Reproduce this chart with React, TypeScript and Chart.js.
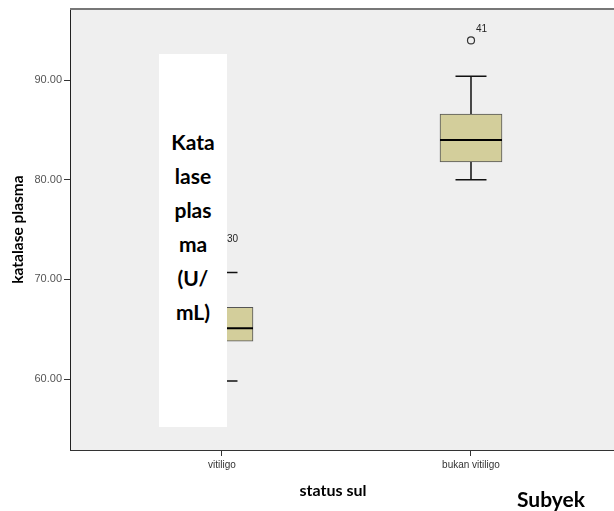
import React, { useEffect, useRef } from "react";
import { Chart, registerables } from "chart.js";

Chart.register(...registerables);

const categories = ["vitiligo", "bukan vitiligo"];
const whiskerLow = [59.8, 80.0];
const q1 = [63.8, 81.8];
const median = [65.1, 84.0];
const q3 = [67.2, 86.6];
const whiskerHigh = [70.7, 90.4];
const outlierValues = [72.9, 94.0];
const outlierLabels = ["30", "41"];
const outlierCategory = [0, 1];
const yTicks = [60, 70, 80, 90];

const yMin = 52.87;
const yMax = 97.16;
const xMin = 0.3896;
const xMax = 2.502;

const boxPlugin = {
  id: "boxParts",
  beforeDraw(chart: any) {
    const { ctx, chartArea } = chart;
    ctx.save();
    ctx.fillStyle = "#efefef";
    ctx.fillRect(chartArea.left, chartArea.top, chart.width - chartArea.left, chartArea.bottom - chartArea.top);
    ctx.restore();
  },
  beforeDatasetsDraw(chart: any) {
    const { ctx } = chart;
    const xs = chart.scales.x;
    const ys = chart.scales.y;
    ctx.save();
    ctx.strokeStyle = "#111";
    ctx.lineWidth = 1.5;
    categories.forEach((_, i) => {
      const x = xs.getPixelForValue(i + 1);
      const cap = 15.5;
      const yh = ys.getPixelForValue(whiskerHigh[i]);
      const yq3 = ys.getPixelForValue(q3[i]);
      const yl = ys.getPixelForValue(whiskerLow[i]);
      const yq1 = ys.getPixelForValue(q1[i]);
      ctx.beginPath();
      ctx.moveTo(x, yq3);
      ctx.lineTo(x, yh);
      ctx.moveTo(x - cap, yh);
      ctx.lineTo(x + cap, yh);
      ctx.moveTo(x, yq1);
      ctx.lineTo(x, yl);
      ctx.moveTo(x - cap, yl);
      ctx.lineTo(x + cap, yl);
      ctx.stroke();
    });
    ctx.restore();
  },
  afterDatasetsDraw(chart: any) {
    const { ctx } = chart;
    const xs = chart.scales.x;
    const ys = chart.scales.y;
    ctx.save();
    ctx.strokeStyle = "#000";
    ctx.lineWidth = 2;
    categories.forEach((_, i) => {
      const x = xs.getPixelForValue(i + 1);
      const y = ys.getPixelForValue(median[i]);
      ctx.beginPath();
      ctx.moveTo(x - 31, y);
      ctx.lineTo(x + 31, y);
      ctx.stroke();
    });
    ctx.fillStyle = "#222";
    ctx.font = "10px 'Liberation Sans', Arial, sans-serif";
    ctx.textAlign = "left";
    ctx.textBaseline = "middle";
    outlierValues.forEach((v, i) => {
      const x = xs.getPixelForValue(outlierCategory[i] + 1);
      const y = ys.getPixelForValue(v);
      ctx.fillText(outlierLabels[i], x + 5, y - 11.5);
    });
    ctx.restore();
  },
  afterDraw(chart: any) {
    const { ctx, chartArea } = chart;
    ctx.save();
    ctx.strokeStyle = "#777";
    ctx.lineWidth = 2;
    ctx.beginPath();
    ctx.moveTo(chartArea.left, chartArea.top);
    ctx.lineTo(chart.width, chartArea.top);
    ctx.stroke();
    ctx.strokeStyle = "#333";
    ctx.lineWidth = 1;
    ctx.beginPath();
    ctx.moveTo(chartArea.left, chartArea.bottom + 0.5);
    ctx.lineTo(chart.width, chartArea.bottom + 0.5);
    ctx.stroke();
    ctx.restore();
  },
};

export default function App() {
  const ref = useRef<HTMLCanvasElement | null>(null);

  useEffect(() => {
    document.body.style.margin = "0";
    const canvas = ref.current;
    if (!canvas) return;
    const chart = new Chart(canvas, {
      type: "bar",
      data: {
        datasets: [
          {
            type: "bar",
            data: categories.map((_, i) => ({ x: i + 1, y: [q1[i], q3[i]] })) as any,
            backgroundColor: "#d3ce9b",
            borderColor: "#555",
            borderWidth: 1,
            borderSkipped: false,
            barThickness: 62,
          } as any,
          {
            type: "scatter",
            data: outlierValues.map((v, i) => ({ x: outlierCategory[i] + 1, y: v })),
            pointStyle: "circle",
            pointRadius: 3.5,
            pointBorderWidth: 1.2,
            pointBorderColor: "#333",
            pointBackgroundColor: "rgba(0,0,0,0)",
          } as any,
        ],
      },
      options: {
        responsive: false,
        animation: false,
        layout: { padding: { top: 9, right: 18, left: 0, bottom: 0 } },
        plugins: { legend: { display: false }, tooltip: { enabled: false } },
        scales: {
          x: {
            type: "linear",
            min: xMin,
            max: xMax,
            offset: false,
            afterFit: (s: any) => {
              s.height = 61;
            },
            afterBuildTicks: (s: any) => {
              s.ticks = categories.map((_, i) => ({ value: i + 1 }));
            },
            ticks: {
              autoSkip: false,
              maxRotation: 0,
              padding: 3,
              color: "#333",
              font: { size: 10, family: "'Liberation Sans', Arial, sans-serif" },
              callback: (v: any) => categories[Number(v) - 1] ?? "",
            },
            grid: { offset: false, drawOnChartArea: false, drawTicks: true, tickLength: 6, color: "#333" },
            border: { color: "#333", width: 1 },
            title: {
              display: true,
              text: "status sul",
              color: "#000",
              font: { size: 16, weight: "bold", family: "Lato, 'Open Sans', sans-serif" },
              padding: { top: 2, bottom: 11 },
            },
          },
          y: {
            type: "linear",
            min: yMin,
            max: yMax,
            afterFit: (s: any) => {
              s.width = 70;
            },
            afterBuildTicks: (s: any) => {
              s.ticks = yTicks.map((v) => ({ value: v }));
            },
            ticks: {
              padding: 2,
              color: "#555",
              font: { size: 11, family: "'Liberation Sans', Arial, sans-serif" },
              callback: (v: any) => Number(v).toFixed(2),
            },
            grid: { drawOnChartArea: false, drawTicks: true, tickLength: 6, color: "#333" },
            border: { color: "#222", width: 1 },
            title: {
              display: true,
              text: "katalase plasma",
              color: "#000",
              font: { size: 15.5, weight: "bold", family: "Lato, 'Open Sans', sans-serif" },
              padding: { top: 9, bottom: 0 },
            },
          },
        },
      } as any,
      plugins: [boxPlugin],
    });
    return () => chart.destroy();
  }, []);

  return (
    <div style={{ position: "relative", width: 614, height: 511, overflow: "hidden" }}>
      <canvas ref={ref} width={614} height={511} style={{ display: "block", width: 614, height: 511 }} />
      <div
        style={{
          position: "absolute",
          left: 159,
          top: 54,
          width: 68,
          height: 373,
          background: "#fff",
          boxSizing: "border-box",
          paddingTop: 71,
          textAlign: "center",
          fontFamily: "Lato, 'Open Sans', sans-serif",
          fontWeight: 700,
          fontSize: 21,
          lineHeight: "34px",
          color: "#000",
        }}
      >
        <div>Kata</div>
        <div>lase</div>
        <div>plas</div>
        <div>ma</div>
        <div>(U/</div>
        <div>mL)</div>
      </div>
      <div
        style={{
          position: "absolute",
          left: 517,
          top: 486,
          fontFamily: "Lato, 'Open Sans', sans-serif",
          fontWeight: 700,
          fontSize: 21,
          lineHeight: "26px",
          color: "#000",
          whiteSpace: "nowrap",
        }}
      >
        Subyek
      </div>
    </div>
  );
}
